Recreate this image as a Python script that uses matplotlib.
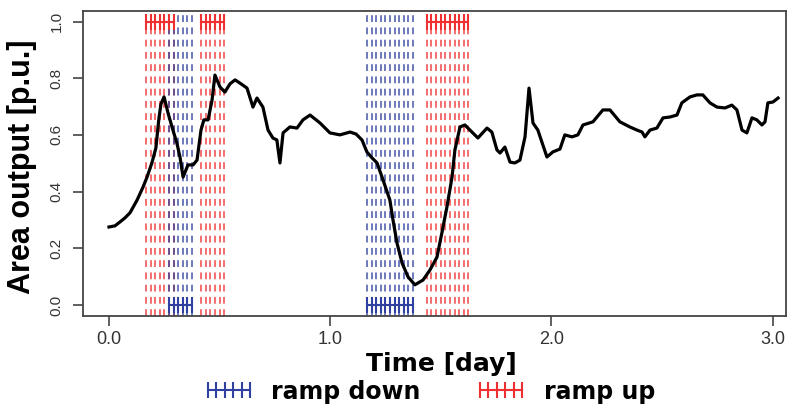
import numpy as np
import matplotlib
matplotlib.use("Agg")
import matplotlib.pyplot as plt
from matplotlib.lines import Line2D

# area output trace (day, p.u.)
t_day = [0.000, 0.027, 0.050, 0.072, 0.095, 0.127, 0.154, 0.172, 0.194, 0.212,
         0.226, 0.235, 0.249, 0.267, 0.289, 0.307, 0.321, 0.335, 0.357, 0.380,
         0.398, 0.407, 0.416, 0.429, 0.448, 0.466, 0.479, 0.502, 0.524, 0.547,
         0.570, 0.597, 0.624, 0.651, 0.669, 0.696, 0.719, 0.741, 0.759, 0.773,
         0.787, 0.818, 0.850, 0.877, 0.909, 0.954, 0.999, 1.044, 1.090, 1.117,
         1.144, 1.166, 1.189, 1.212, 1.239, 1.270, 1.284, 1.302, 1.325, 1.352,
         1.383, 1.420, 1.451, 1.483, 1.505, 1.528, 1.551, 1.564, 1.587, 1.609,
         1.641, 1.668, 1.709, 1.731, 1.754, 1.768, 1.790, 1.813, 1.835, 1.858,
         1.881, 1.899, 1.917, 1.939, 1.980, 2.007, 2.039, 2.061, 2.093, 2.120,
         2.143, 2.188, 2.233, 2.265, 2.310, 2.355, 2.387, 2.410, 2.423, 2.446,
         2.477, 2.491, 2.505, 2.536, 2.568, 2.590, 2.627, 2.658, 2.685, 2.717,
         2.749, 2.785, 2.816, 2.839, 2.862, 2.884, 2.907, 2.929, 2.952, 2.966,
         2.979, 3.002, 3.025]
area_out = [0.275, 0.279, 0.293, 0.307, 0.325, 0.370, 0.416, 0.451, 0.501, 0.554,
            0.660, 0.709, 0.734, 0.677, 0.617, 0.571, 0.522, 0.451, 0.494, 0.494,
            0.511, 0.564, 0.617, 0.653, 0.653, 0.723, 0.811, 0.769, 0.751, 0.780,
            0.794, 0.780, 0.765, 0.698, 0.730, 0.698, 0.617, 0.589, 0.582, 0.501,
            0.607, 0.628, 0.624, 0.653, 0.670, 0.642, 0.607, 0.600, 0.610, 0.603,
            0.582, 0.540, 0.519, 0.501, 0.441, 0.370, 0.300, 0.219, 0.148, 0.099,
            0.071, 0.088, 0.123, 0.169, 0.254, 0.346, 0.451, 0.547, 0.628, 0.635,
            0.610, 0.589, 0.624, 0.610, 0.547, 0.536, 0.557, 0.504, 0.501, 0.511,
            0.593, 0.765, 0.642, 0.617, 0.522, 0.540, 0.550, 0.600, 0.593, 0.600,
            0.635, 0.646, 0.688, 0.688, 0.646, 0.628, 0.617, 0.610, 0.593, 0.617,
            0.624, 0.642, 0.660, 0.663, 0.670, 0.713, 0.734, 0.741, 0.741, 0.713,
            0.698, 0.695, 0.705, 0.688, 0.617, 0.607, 0.660, 0.653, 0.635, 0.646,
            0.713, 0.716, 0.730]

# ramp event times (day)
ramp_up = [0.167, 0.188, 0.208, 0.229, 0.250, 0.271, 0.292,
           0.417, 0.438, 0.458, 0.479, 0.500, 0.521,
           1.438, 1.458, 1.479, 1.500, 1.521, 1.542, 1.563, 1.583, 1.604, 1.625]
ramp_down = [0.271, 0.292, 0.313, 0.333, 0.354, 0.375,
             1.167, 1.188, 1.208, 1.229, 1.250, 1.271, 1.292, 1.313, 1.333,
             1.354, 1.375]

x_ticks = [0, 1, 2, 3]
x_labels = ["0.0", "1.0", "2.0", "3.0"]
y_ticks = [0.0, 0.2, 0.4, 0.6, 0.8, 1.0]
y_labels = ["0.0", "0.2", "0.4", "0.6", "0.8", "1.0"]

RED = "#f03030"
BLUE = "#3040a0"


def groups(times, gap=0.03):  # split event times into contiguous blocks
    out = [[times[0]]]
    for a, b in zip(times[:-1], times[1:]):
        if b - a > gap:
            out.append([])
        out[-1].append(b)
    return out


fig = plt.figure(figsize=(7.95, 4.08), dpi=100)
ax = fig.add_axes([0.1044, 0.2255, 0.8843, 0.7475])

for t in ramp_up:
    ax.axvline(t, color=RED, lw=1.4, alpha=0.7, dashes=(3.5, 2.8), zorder=1)
for t in ramp_down:
    ax.axvline(t, color=BLUE, lw=1.4, alpha=0.7, dashes=(3.5, 2.8), zorder=1)

for g in groups(ramp_up):
    ax.plot(g, [1.0] * len(g), color=RED, lw=1.5, marker="|", ms=11, mew=1.5, zorder=3)
for g in groups(ramp_down):
    ax.plot(g, [0.0] * len(g), color=BLUE, lw=1.5, marker="|", ms=11, mew=1.5, zorder=3)

ax.plot(t_day, area_out, color="black", lw=2.3, zorder=4)

ax.set_xlim(-0.1175, 3.061)
ax.set_ylim(-0.039, 1.037)

ax.set_xticks(x_ticks)
ax.set_xticklabels(x_labels, fontsize=13, color="#333333", family="Liberation Sans")
ax.set_yticks(y_ticks)
ax.set_yticklabels(y_labels, fontsize=11, color="#333333", family="Liberation Sans",
                   rotation=90, va="center")
ax.tick_params(axis="x", length=7, width=1.2, color="#444444", pad=4)
ax.tick_params(axis="y", length=7, width=1.2, color="#444444", pad=7)
for s in ax.spines.values():
    s.set_color("#444444")
    s.set_linewidth(1.3)

ax.set_ylabel("Area output [p.u.]", fontsize=22, fontweight="bold",
              family="Liberation Sans")
ax.yaxis.set_label_coords(-0.066, 0.49)
fig.text(0.555, 0.108, "Time [day]", fontsize=18, fontweight="bold",
         ha="center", va="center")

h_down = Line2D([], [], color=BLUE, lw=1.5, marker="|", ms=11, mew=1.5)
h_up = Line2D([], [], color=RED, lw=1.5, marker="|", ms=11, mew=1.5)
fig.legend([h_down, h_up], ["ramp down", "ramp up"], ncol=2, frameon=False,
           loc="center", bbox_to_anchor=(0.538, 0.04), numpoints=6,
           handlelength=2.4, handletextpad=0.6, columnspacing=2.2,
           prop={"weight": "bold", "size": 17})

fig.savefig("out.png", dpi=100)
